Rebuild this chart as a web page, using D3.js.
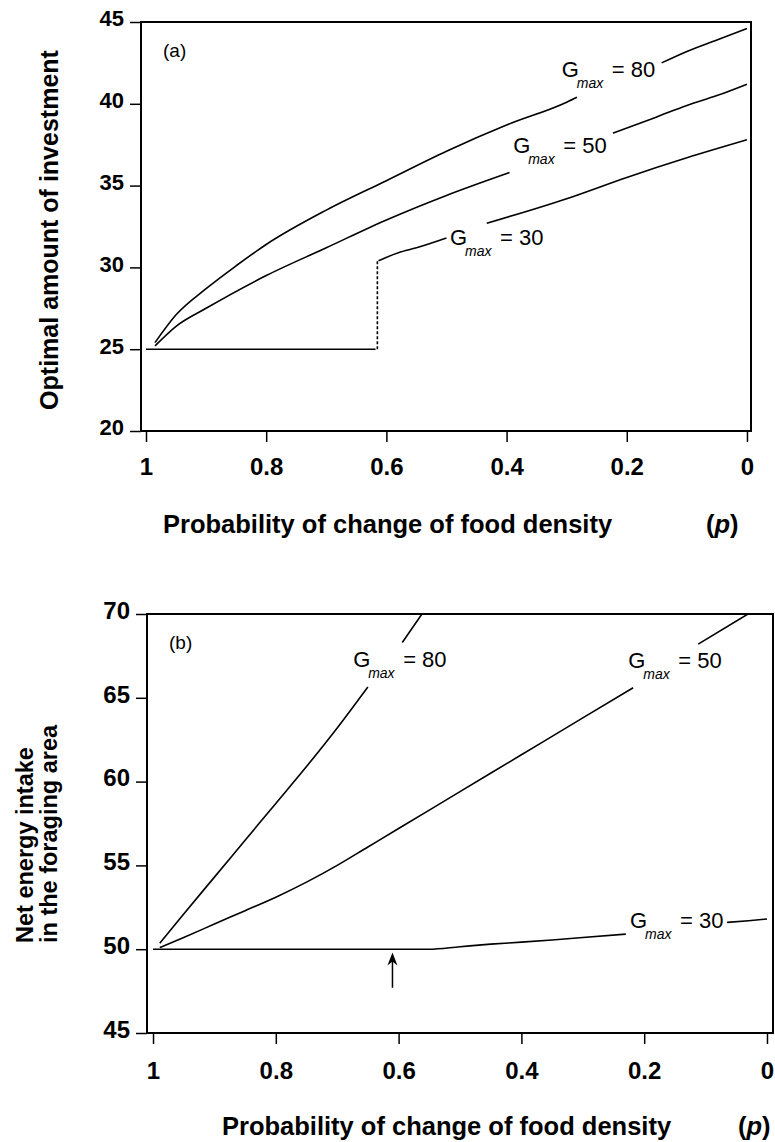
<!DOCTYPE html>
<html lang="en">
<head>
<meta charset="UTF-8">
<script src="https://d3js.org/d3.v7.min.js"></script>
<style>
  body { margin: 0; background: #fff; }
  svg text { font-family: "Liberation Sans", Arial, sans-serif; fill: #000; }
</style>
</head>
<body>
<div id="chart"></div>
<script>
// probability of change of food density (p)
const xTicks = [1, 0.8, 0.6, 0.4, 0.2, 0];
const xTickLabels = ["1", "0.8", "0.6", "0.4", "0.2", "0"];

// (a) optimal amount of investment
const yTicksA = [20, 25, 30, 35, 40, 45];
const a80P = [0.985, 0.95, 0.9, 0.85, 0.8, 0.7, 0.6, 0.5, 0.4, 0.3, 0.283, 0.2, 0.142, 0.1, 0.05, 0];
const a80V = [25.4, 27.1, 28.7, 30.1, 31.4, 33.5, 35.3, 37.1, 38.7, 40.1, 40.4, null, 42.5, 43.2, 43.9, 44.6];
const a50P = [0.985, 0.95, 0.9, 0.8, 0.7, 0.6, 0.5, 0.395, 0.3, 0.223, 0.15, 0.1, 0.05, 0];
const a50V = [25.2, 26.4, 27.5, 29.5, 31.2, 32.9, 34.4, 35.8, null, 38.2, 39.2, 39.9, 40.5, 41.2];
const a30FlatP = [1, 0.618];
const a30FlatV = [25, 25];
const a30JumpP = [0.615, 0.615];
const a30JumpV = [25, 30.4];
const a30P = [0.613, 0.58, 0.55, 0.5, 0.47, 0.433, 0.3, 0.2, 0.1, 0];
const a30V = [30.4, 30.9, 31.2, 31.8, null, 32.7, 34.2, 35.5, 36.7, 37.8];

// (b) net energy intake in the foraging area
const yTicksB = [45, 50, 55, 60, 65, 70];
const b80P = [0.989, 0.95, 0.9, 0.85, 0.8, 0.75, 0.7, 0.65, 0.62, 0.594, 0.562];
const b80V = [50.35, 52.1, 54.3, 56.5, 58.7, 60.9, 63.2, 65.65, null, 68.3, 70];
const b50P = [0.989, 0.95, 0.9, 0.85, 0.8, 0.75, 0.7, 0.65, 0.6, 0.5, 0.4, 0.3, 0.218, 0.16, 0.112, 0.031];
const b50V = [50.1, 50.7, 51.5, 52.3, 53.1, 54.0, 55.0, 56.1, 57.2, 59.4, 61.6, 63.8, 65.6, null, 68.2, 70];
const b30P = [1, 0.55, 0.5, 0.45, 0.4, 0.35, 0.3, 0.23, 0.15, 0.065, 0.03, 0];
const b30V = [50, 50, 50.15, 50.3, 50.42, 50.55, 50.7, 50.9, null, 51.6, 51.7, 51.8];
const arrowP = 0.61;
const arrowV = [47.7, 49.8];

const svg = d3.select("#chart").append("svg")
    .attr("width", 775)
    .attr("height", 1142);

function zip(ps, vs) {
  return ps.map((p, i) => ({p: p, v: vs[i]}));
}

function drawPanel(cfg) {
  const x = d3.scaleLinear().domain(cfg.xDomain).range([cfg.left, cfg.right]);
  const y = d3.scaleLinear().domain(cfg.yDomain).range([cfg.bottom, cfg.top]);
  const g = svg.append("g");

  g.append("clipPath").attr("id", cfg.id + "-clip")
    .append("rect")
      .attr("x", cfg.left).attr("y", cfg.top)
      .attr("width", cfg.right - cfg.left).attr("height", cfg.bottom - cfg.top);

  // y axis
  const ya = g.append("g")
    .attr("transform", `translate(${cfg.left},0)`)
    .call(d3.axisLeft(y).tickValues(cfg.yTicks).tickSize(11).tickPadding(6).tickFormat(d3.format("d")));
  ya.select(".domain").remove();
  ya.selectAll("line").attr("stroke", "#000").attr("stroke-width", 1.5);
  ya.selectAll("text")
    .attr("dy", "0.18em")
    .style("font-size", cfg.yTickSize + "px")
    .style("font-weight", "bold");

  // x axis
  const xa = g.append("g")
    .attr("transform", `translate(0,${cfg.bottom})`)
    .call(d3.axisBottom(x).tickValues(xTicks).tickSize(11).tickPadding(cfg.xPad)
      .tickFormat((d, i) => xTickLabels[i]));
  xa.select(".domain").remove();
  xa.selectAll("line").attr("stroke", "#000").attr("stroke-width", 1.5);
  xa.selectAll("text")
    .style("font-size", "24px")
    .style("font-weight", "bold");

  // frame
  g.append("rect")
    .attr("x", cfg.left).attr("y", cfg.top)
    .attr("width", cfg.right - cfg.left).attr("height", cfg.bottom - cfg.top)
    .attr("fill", "none").attr("stroke", "#000").attr("stroke-width", 2);

  const line = d3.line()
    .defined(d => d.v !== null)
    .curve(d3.curveMonotoneX)
    .x(d => x(d.p))
    .y(d => y(d.v));

  cfg.series.forEach(s => {
    g.append("path")
      .datum(s.data)
      .attr("clip-path", `url(#${cfg.id}-clip)`)
      .attr("d", line)
      .attr("fill", "none")
      .attr("stroke", "#000")
      .attr("stroke-width", 1.6)
      .attr("stroke-dasharray", s.dash ? "3,2" : null);
  });

  // G_max labels
  cfg.labels.forEach(l => {
    const lx = x(l.p), ly = y(l.v);
    g.append("text").attr("x", lx).attr("y", ly).style("font-size", "22px").text("G");
    g.append("text").attr("x", lx + 15).attr("y", ly + 11)
      .style("font-size", "14px").style("font-style", "italic").text("max");
    g.append("text").attr("x", lx + 50).attr("y", ly).style("font-size", "22px").text("= " + l.txt);
  });

  g.append("text")
    .attr("x", cfg.left + 22).attr("y", cfg.top + 35)
    .style("font-size", "19px")
    .text(cfg.tag);

  // x title
  g.append("text")
    .attr("x", cfg.titleX).attr("y", cfg.titleY)
    .style("font-size", "25.5px").style("font-weight", "bold")
    .text("Probability of change of food density");
  const pt = g.append("text")
    .attr("x", cfg.pX).attr("y", cfg.titleY)
    .style("font-size", "25.5px").style("font-weight", "bold");
  pt.append("tspan").text("(");
  pt.append("tspan").style("font-style", "italic").text("p");
  pt.append("tspan").text(")");

  return {x: x, y: y, g: g};
}

const A = drawPanel({
  id: "pa", tag: "(a)",
  left: 141, right: 751, top: 22, bottom: 431,
  xDomain: [1.0083, -0.0067], yDomain: [20, 45],
  yTicks: yTicksA, yTickSize: 22, xPad: 16,
  titleX: 163, titleY: 533, pX: 706,
  series: [
    {data: zip(a80P, a80V)},
    {data: zip(a50P, a50V)},
    {data: zip(a30FlatP, a30FlatV)},
    {data: zip(a30JumpP, a30JumpV), dash: true},
    {data: zip(a30P, a30V)}
  ],
  labels: [
    {p: 0.308, v: 41.65, txt: "80"},
    {p: 0.389, v: 37.0, txt: "50"},
    {p: 0.494, v: 31.36, txt: "30"}
  ]
});

A.g.append("text")
  .attr("transform", "translate(58,230) rotate(-90)")
  .attr("text-anchor", "middle")
  .style("font-size", "25px").style("font-weight", "bold")
  .text("Optimal amount of investment");

const B = drawPanel({
  id: "pb", tag: "(b)",
  left: 147, right: 773, top: 614, bottom: 1033,
  xDomain: [1.0098, -0.0098], yDomain: [45, 70],
  yTicks: yTicksB, yTickSize: 24, xPad: 18,
  titleX: 222, titleY: 1135, pX: 738,
  series: [
    {data: zip(b80P, b80V)},
    {data: zip(b50P, b50V)},
    {data: zip(b30P, b30V)}
  ],
  labels: [
    {p: 0.674, v: 66.85, txt: "80"},
    {p: 0.226, v: 66.8, txt: "50"},
    {p: 0.223, v: 51.27, txt: "30"}
  ]
});

B.g.append("text")
  .attr("transform", "translate(33,943) rotate(-90)")
  .style("font-size", "23.5px").style("font-weight", "bold")
  .text("Net energy intake");
B.g.append("text")
  .attr("transform", "translate(57,943) rotate(-90)")
  .style("font-size", "23.5px").style("font-weight", "bold")
  .text("in the foraging area");

// arrow marking the switch point
const ax = B.x(arrowP), ay0 = B.y(arrowV[0]), ay1 = B.y(arrowV[1]);
B.g.append("line")
  .attr("x1", ax).attr("x2", ax).attr("y1", ay0).attr("y2", ay1 + 4)
  .attr("stroke", "#000").attr("stroke-width", 1.5);
B.g.append("path")
  .attr("d", `M${ax},${ay1} L${ax - 5},${ay1 + 13} L${ax},${ay1 + 9} L${ax + 5},${ay1 + 13} Z`)
  .attr("fill", "#000");
</script>
</body>
</html>
